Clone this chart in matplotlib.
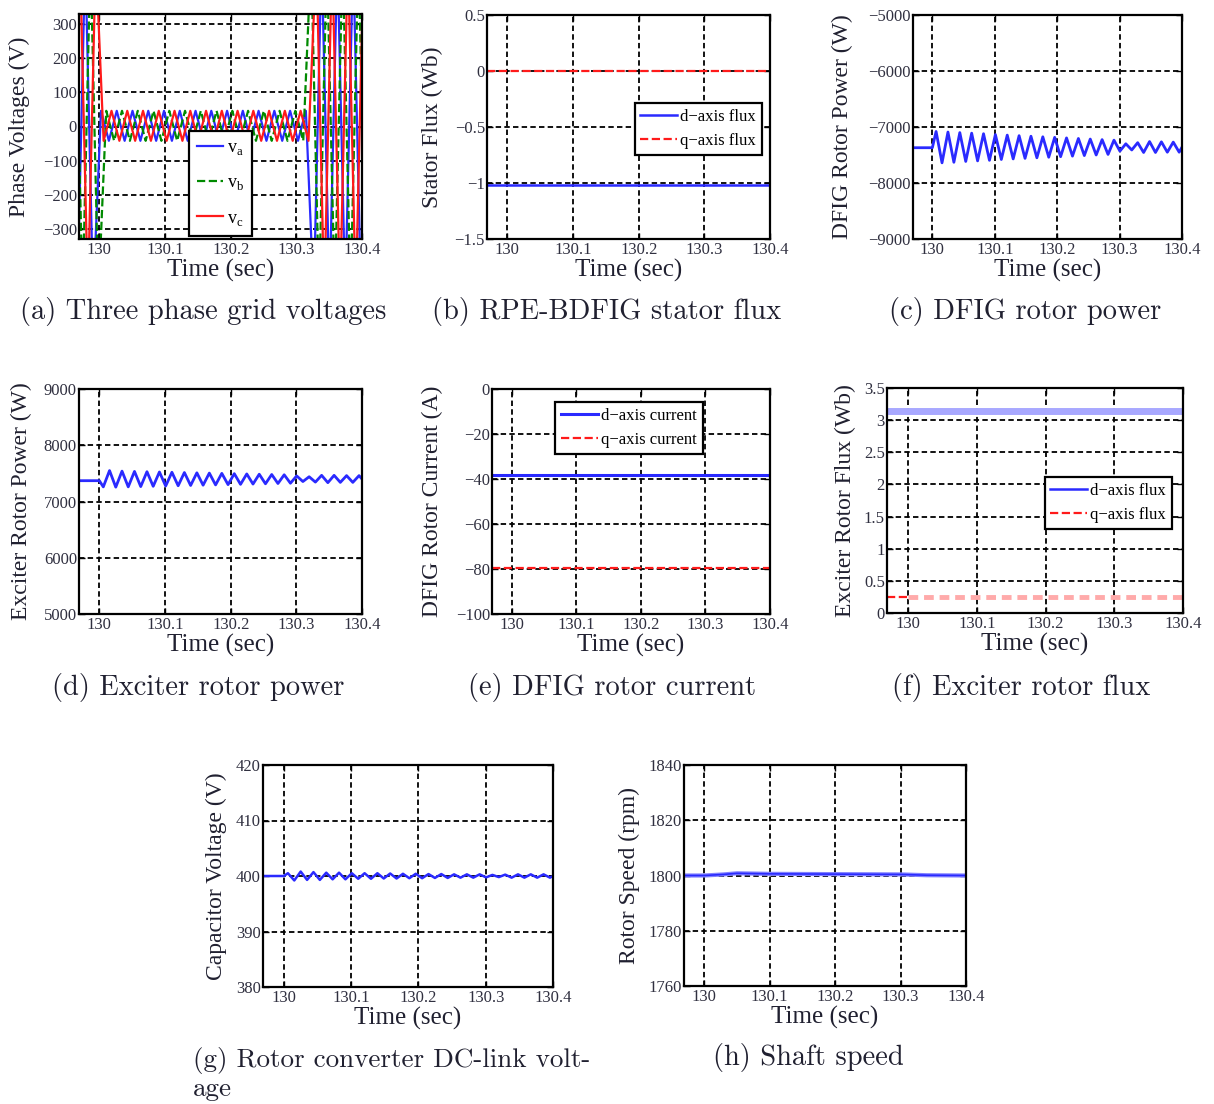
import numpy as np
import matplotlib
matplotlib.use("Agg")
import matplotlib.pyplot as plt

# time axis shared by all panels
t_start, t_end = 129.969, 130.4
time_ticks = [130, 130.1, 130.2, 130.3, 130.4]
time_tick_labels = ["130", "130.1", "130.2", "130.3", "130.4"]

# (a) phase voltages: turning points of phase a, phases b/c lag behind
t_half_a = [129.9545, 129.9665, 129.9785, 129.9905, 130.0025, 130.0145, 130.0265, 130.0385,
            130.0505, 130.0625, 130.0745, 130.0865, 130.0985, 130.1105, 130.1225, 130.1345,
            130.1465, 130.1585, 130.1705, 130.1825, 130.1945, 130.2065, 130.2185, 130.2305,
            130.2425, 130.2545, 130.2665, 130.2785, 130.2905, 130.3025, 130.3145, 130.3265,
            130.3385, 130.3505, 130.3625, 130.3745, 130.3865, 130.3985, 130.4105]
lag_b = 0.008
lag_c = 0.016
va = [500, -500, 500, -500,
      46, -42, 46, -42, 46, -42, 46, -42, 46, -42, 46, -42, 46, -42, 46, -42,
      46, -42, 46, -42, 46, -42, 46, -42, 46, -42, 46,
      -500, 500, -500, 500, -500, 500, -500, 500]
vb = [500, -500, 500, -500,
      46, -42, 46, -42, 46, -42, 46, -42, 46, -42, 46, -42, 46, -42, 46, -42,
      46, -42, 46, -42, 46, -42, 46, -42, 46, -42,
      500, -500, 500, -500, 500, -500, 500, -500, 500]
vc = [500, -500, 500,
      -42, 46, -42, 46, -42, 46, -42, 46, -42, 46, -42, 46, -42, 46, -42, 46,
      -42, 46, -42, 46, -42, 46, -42, 46, -42, 46, -42,
      500, -500, 500, -500, 500, -500, 500, -500, 500]

# (b) stator flux
t_flat = [129.969, 130.4]
stator_d = [-1.02, -1.02]
stator_q = [0.0, 0.0]

# (c), (d), (g) oscillating quantities, sampled at their turning points
t_osc = [129.969, 130.0,
         130.006, 130.0155, 130.025, 130.0345, 130.044, 130.0535, 130.063, 130.0725,
         130.082, 130.0915, 130.101, 130.1105, 130.120, 130.1295, 130.139, 130.1485,
         130.158, 130.1675, 130.177, 130.1865, 130.196, 130.2055, 130.215, 130.2245,
         130.234, 130.2435, 130.253, 130.2625, 130.272, 130.2815, 130.291, 130.3005,
         130.310, 130.3195, 130.329, 130.3385, 130.348, 130.3575, 130.367, 130.3765,
         130.386, 130.3955, 130.4]
dfig_power = [-7370, -7370,
              -7080, -7640, -7090, -7630, -7100, -7615, -7110, -7605, -7120, -7595,
              -7135, -7580, -7145, -7570, -7155, -7560, -7165, -7550, -7175, -7540,
              -7185, -7530, -7195, -7520, -7205, -7510, -7215, -7500, -7225, -7490,
              -7235, -7430, -7300, -7410, -7280, -7455, -7260, -7455, -7265, -7450,
              -7270, -7450, -7360]
exciter_power = [7370, 7370,
                 7260, 7550, 7255, 7540, 7260, 7535, 7265, 7530, 7270, 7525,
                 7275, 7520, 7280, 7515, 7285, 7510, 7290, 7505, 7295, 7500,
                 7300, 7495, 7305, 7490, 7310, 7485, 7315, 7480, 7320, 7475,
                 7325, 7455, 7355, 7440, 7345, 7465, 7335, 7465, 7340, 7460,
                 7340, 7460, 7400]
dc_voltage = [400, 400,
              400.5, 399.2, 400.8, 399.3, 400.7, 399.3, 400.6, 399.4, 400.6, 399.4,
              400.5, 399.5, 400.5, 399.5, 400.5, 399.55, 400.45, 399.55, 400.4, 399.6,
              400.4, 399.6, 400.35, 399.65, 400.35, 399.65, 400.3, 399.7, 400.3, 399.7,
              400.3, 399.75, 400.2, 399.8, 400.25, 399.7, 400.3, 399.7, 400.3, 399.7,
              400.3, 399.7, 400]

# (e) DFIG rotor current
rotor_id = [-38.3, -38.3]
rotor_iq = [-79.7, -79.7]

# (f) exciter rotor flux
t_f = [129.969, 130.0, 130.4]
exc_d = [3.15, 3.15, 3.15]
exc_q = [0.25, 0.25, 0.25]

# (h) shaft speed
t_speed = [129.969, 130.0, 130.03, 130.05, 130.1, 130.2, 130.3, 130.34, 130.4]
speed = [1800, 1800, 1800.4, 1800.8, 1800.6, 1800.5, 1800.4, 1800.1, 1800]

W, H = 1214, 1104
plt.rcParams['font.family'] = ['Liberation Serif', 'DejaVu Serif']
fig = plt.figure(figsize=(W / 100, H / 100), dpi=100)

BLUE = '#2a2aff'
RED = '#ff1a1a'
GREEN = '#008a00'
TXT = '#202030'


def fmt(v):
    return ('%g' % v).replace('-', '\u2212')


def panel(box, ylim, yticks, ylabel, ylab_x):
    l, t, r, b = box
    ax = fig.add_axes([l / W, 1 - b / H, (r - l) / W, (b - t) / H])
    ax.set_xlim(t_start, t_end)
    ax.set_ylim(*ylim)
    ax.set_xticks(time_ticks)
    ax.set_xticklabels(time_tick_labels)
    ax.set_yticks(yticks)
    ax.set_yticklabels([fmt(v) for v in yticks])
    ax.tick_params(direction='in', length=4, width=1, top=True, right=True,
                   labelsize=12, labelcolor='#303040', pad=2)
    ax.tick_params(axis='y', pad=1.5)
    ax.grid(True, color='black', linestyle=(0, (3, 1.8)), linewidth=1.3)
    ax.set_axisbelow(True)
    for s in ax.spines.values():
        s.set_linewidth(1.6)
    ax.set_xlabel('Time (sec)', fontsize=18, color=TXT)
    ax.xaxis.set_label_coords(0.5, -0.088)
    ax.set_ylabel(ylabel, fontsize=17, color=TXT)
    ax.yaxis.set_label_coords(ylab_x, 0.5)
    return ax


def caption(x, y, s, ha='center', size=20.5):
    fig.text(x / W, 1 - y / H, s, family='cmr10', fontsize=size, color=TXT,
             ha=ha, va='center', linespacing=1.15)


def legend(ax, loc, anchor, **kw):
    opts = dict(handlelength=2.2, handletextpad=0.2, labelspacing=0.5, borderpad=0.35,
                fontsize=12)
    opts.update(kw)
    leg = ax.legend(loc=loc, bbox_to_anchor=anchor, borderaxespad=0,
                    fancybox=False, framealpha=1, edgecolor='black', **opts)
    leg.get_frame().set_linewidth(1.6)
    return leg


# (a)
ax = panel((79, 14, 362, 239), (-330, 330), [-300, -200, -100, 0, 100, 200, 300],
           'Phase Voltages (V)', -0.173)
ax.plot(t_half_a, va, color=BLUE, lw=1.6, label='v$_\\mathregular{a}$')
ax.plot(np.array(t_half_a) + lag_b, vb, color=GREEN, lw=1.6, ls='--', label='v$_\\mathregular{b}$')
ax.plot(np.array(t_half_a) + lag_c, vc, color=RED, lw=1.6, label='v$_\\mathregular{c}$')
legend(ax, 'lower center', (0.5, 0.015), fontsize=13, handlelength=1.45,
       labelspacing=0.95, borderpad=0.45)
caption(203, 312, '(a) Three phase grid voltages')

# (b)
ax = panel((487, 15, 770, 239), (-1.5, 0.5), [-1.5, -1, -0.5, 0, 0.5],
           'Stator Flux (Wb)', -0.155)
ax.plot(t_flat, stator_d, color=BLUE, lw=1.8, label='d\u2212axis flux')
ax.plot(t_flat, stator_q, color=RED, lw=1.6, ls='--', label='q\u2212axis flux')
legend(ax, 'upper right', (0.972, 0.607))
caption(607, 312, '(b) RPE-BDFIG stator flux')

# (c)
ax = panel((913, 15, 1182, 239), (-9000, -5000), [-9000, -8000, -7000, -6000, -5000],
           'DFIG Rotor Power (W)', -0.223)
ax.plot(t_osc, dfig_power, color=BLUE, lw=2)
caption(1025, 312, '(c) DFIG rotor power')

# (d)
ax = panel((79, 389, 362, 614), (5000, 9000), [5000, 6000, 7000, 8000, 9000],
           'Exciter Rotor Power (W)', -0.166)
ax.plot(t_osc, exciter_power, color=BLUE, lw=2)
caption(198, 688, '(d) Exciter rotor power')

# (e)
ax = panel((492, 389, 770, 614), (-100, 0), [-100, -80, -60, -40, -20, 0],
           'DFIG Rotor Current (A)', -0.176)
ax.plot(t_flat, rotor_id, color=BLUE, lw=2.2, label='d\u2212axis current')
ax.plot(t_flat, rotor_iq, color=RED, lw=1.6, ls='--', label='q\u2212axis current')
legend(ax, 'upper left', (0.227, 0.942))
caption(612, 688, '(e) DFIG rotor current')

# (f)
ax = panel((887, 388, 1183, 613), (0, 3.5), [0, 0.5, 1, 1.5, 2, 2.5, 3, 3.5],
           'Exciter Rotor Flux (Wb)', -0.105)
ax.plot(t_f, exc_d, color='#a8a8ff', lw=5)
ax.plot(t_f[:2], exc_q[:2], color=RED, lw=1.6, ls='--')
ax.plot(t_f[1:], exc_q[1:], color='#ffaaaa', lw=3.5, ls=(0, (2, 1.2)))
ax.plot([], [], color=BLUE, lw=1.8, label='d\u2212axis flux')
ax.plot([], [], color=RED, lw=1.6, ls='--', label='q\u2212axis flux')
legend(ax, 'upper right', (0.963, 0.604))
caption(1021, 688, '(f) Exciter rotor flux')

# (g)
ax = panel((263, 765, 553, 987), (380, 420), [380, 390, 400, 410, 420],
           'Capacitor Voltage (V)', -0.124)
ax.plot(t_osc, dc_voltage, color=BLUE, lw=1.8)
caption(193, 1074, '(g) Rotor converter DC-link volt-\nage', ha='left', size=19.5)

# (h)
ax = panel((684, 765, 966, 986), (1760, 1840), [1760, 1780, 1800, 1820, 1840],
           'Rotor Speed (rpm)', -0.156)
ax.plot(t_speed, speed, color='#8080ff', lw=3)
ax.plot(t_speed, speed, color=BLUE, lw=1.2)
caption(808, 1058, '(h) Shaft speed')

fig.savefig('out.png', dpi=100)
